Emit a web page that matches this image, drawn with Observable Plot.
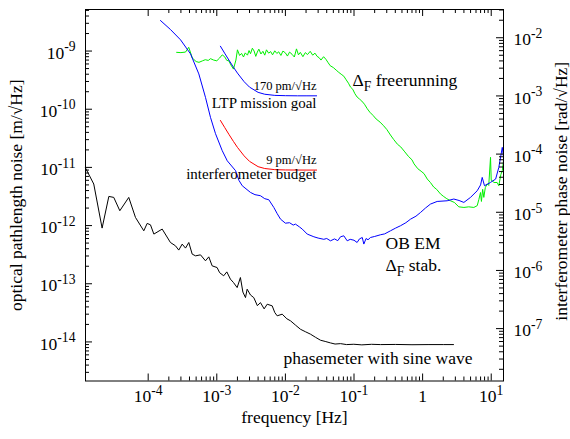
<!DOCTYPE html>
<html><head><meta charset="utf-8">
<script src="https://cdn.jsdelivr.net/npm/d3@7"></script>
<script src="https://cdn.jsdelivr.net/npm/@observablehq/plot@0.6"></script>
<style>html,body{margin:0;padding:0;background:#fff;}</style>
</head><body><div id="chart"></div>
<script>
// ---- data (frequency in Hz, optical pathlength noise in m/sqrt(Hz)) ----
const phasemeterFreq = [1.22e-5,1.61e-5,2.13e-5,2.67e-5,3.15e-5,3.86e-5,5.21e-5,6.53e-5,8.63e-5,9.67e-5,1.08e-4,1.21e-4,1.6e-4,2.11e-4,2.5e-4,2.79e-4,3.13e-4,3.5e-4,3.91e-4,4.38e-4,4.9e-4,5.79e-4,6.84e-4,7.64e-4,8.56e-4,1.01e-3,1.1e-3,1.26e-3,1.4e-3,1.58e-3,1.75e-3,1.98e-3,2.21e-3,2.4e-3,2.62e-3,2.77e-3,3.1e-3,3.46e-3,3.9e-3,4.33e-3,4.9e-3,5.43e-3,6.42e-3,7.0e-3,7.59e-3,8.98e-3,1.05e-2,1.19e-2,1.4e-2,1.66e-2,1.95e-2,2.32e-2,2.75e-2,3.25e-2,3.8e-2,4.54e-2,5.3e-2,6.36e-2,7.8e-2,9.93e-2,0.13,0.18,0.243,0.4,0.7,1.2,2.0,2.82];
const phasemeterNoise = [9.77e-12,5.18e-12,9.05e-13,3.17e-12,3.05e-12,1.8e-12,3.05e-12,1.38e-12,8.13e-13,1.09e-12,1.03e-12,7.14e-13,8.71e-13,5.12e-13,4.49e-13,3.79e-13,4.8e-13,4.1e-13,5.12e-13,3.23e-13,3.02e-13,3.14e-13,2.48e-13,2.9e-13,2.03e-13,1.9e-13,1.55e-13,1.37e-13,1.6e-13,1.2e-13,1.05e-13,8.6e-14,1.28e-13,7.2e-14,5.78e-14,8.07e-14,6.4e-14,5.78e-14,4.2e-14,4.74e-14,3.7e-14,4.45e-14,4.17e-14,3.2e-14,2.81e-14,3.0e-14,2.5e-14,2.3e-14,1.95e-14,1.65e-14,1.5e-14,1.36e-14,1.2e-14,1.07e-14,1.02e-14,9.62e-15,9.2e-15,9.35e-15,9.0e-15,9.12e-15,8.9e-15,9.1e-15,9.0e-15,9.05e-15,8.95e-15,9.0e-15,9.0e-15,9.0e-15];

const freerunFreq = [2.6e-4,3.0e-4,3.5e-4,3.9e-4,4.4e-4,5.0e-4,5.5e-4,6.2e-4,6.8e-4,7.5e-4,8.1e-4,9.0e-4,1.0e-3,1.1e-3,1.2e-3,1.3e-3,1.4e-3,1.5e-3,1.6e-3,1.75e-3,1.9e-3,2.0e-3,2.15e-3,2.3e-3,2.45e-3,2.6e-3,2.8e-3,2.95e-3,3.1e-3,3.3e-3,3.5e-3,3.7e-3,3.9e-3,4.1e-3,4.4e-3,4.7e-3,5.0e-3,5.3e-3,5.7e-3,6.1e-3,6.5e-3,7.0e-3,7.5e-3,8.0e-3,8.6e-3,9.2e-3,1.0e-2,1.07e-2,1.15e-2,1.25e-2,1.35e-2,1.45e-2,1.55e-2,1.65e-2,1.8e-2,1.95e-2,2.1e-2,2.3e-2,2.5e-2,2.7e-2,2.9e-2,3.1e-2,3.3e-2,3.6e-2,3.9e-2,4.2e-2,4.5e-2,5.0e-2,5.5e-2,6.0e-2,6.5e-2,7.1e-2,7.7e-2,8.3e-2,8.9e-2,9.6e-2,0.103,0.111,0.12,0.13,0.142,0.156,0.17,0.19,0.21,0.24,0.27,0.3,0.34,0.38,0.43,0.48,0.55,0.62,0.7,0.75,0.85,0.95,1.05,1.17,1.3,1.45,1.6,1.82,2.0,2.25,2.55,2.9,3.37,4.0,4.7,5.58,6.25,6.6,6.98,7.2,7.5,7.8,8.2,8.75,9.2,9.77,10.0,10.3,11.0,12.2,12.9,13.8,14.5,15.1];
const freerunNoise = [9.5e-10,9.4e-10,9.6e-10,1.16e-9,7.6e-10,6.6e-10,6.4e-10,6.8e-10,7.1e-10,6.9e-10,7.4e-10,7.0e-10,6.8e-10,7.6e-10,8.6e-10,8.0e-10,6.9e-10,6.8e-10,5.8e-10,4.9e-10,7.0e-10,1.05e-9,8.4e-10,9.1e-10,7.9e-10,9.3e-10,8.5e-10,1.02e-9,9.0e-10,1.12e-9,1.0e-9,8.1e-10,9.6e-10,1.08e-9,8.9e-10,9.9e-10,8.5e-10,1.05e-9,9.2e-10,9.8e-10,8.6e-10,1.01e-9,9.1e-10,9.7e-10,8.4e-10,1.0e-9,9.3e-10,8.2e-10,9.6e-10,8.8e-10,7.9e-10,1.09e-9,8.6e-10,9.5e-10,8.0e-10,9.4e-10,8.7e-10,9.9e-10,8.5e-10,9.2e-10,8.1e-10,7.7e-10,7.0e-10,8.0e-10,7.2e-10,6.3e-10,5.6e-10,5.2e-10,4.7e-10,4.3e-10,4.0e-10,3.7e-10,3.2e-10,2.8e-10,2.4e-10,2.2e-10,1.85e-10,1.62e-10,1.5e-10,1.38e-10,1.22e-10,1.02e-10,8.9e-11,7.8e-11,6.8e-11,6.0e-11,5.2e-11,4.5e-11,3.6e-11,3.0e-11,2.5e-11,2.25e-11,1.85e-11,1.55e-11,1.35e-11,1.15e-11,9.5e-12,8.6e-12,7.8e-12,6.3e-12,5.5e-12,4.6e-12,4.2e-12,3.5e-12,3.2e-12,2.9e-12,2.67e-12,2.5e-12,2.1e-12,2.05e-12,2.1e-12,2.05e-12,2.2e-12,2.8e-12,3.7e-12,2.6e-12,4.2e-12,3.05e-12,4.5e-12,5.2e-12,4.9e-12,1.49e-11,6.0e-12,5.9e-12,5.5e-12,5.5e-12,4.84e-12,7.5e-12,8.8e-12,1.3e-11];

const stabFreq = [1.51e-4,2.11e-4,2.96e-4,4.14e-4,5.47e-4,6.84e-4,8.09e-4,9.58e-4,1.2e-3,1.42e-3,1.88e-3,2.1e-3,2.35e-3,3.1e-3,3.6e-3,4.33e-3,5.0e-3,5.73e-3,6.78e-3,7.6e-3,8.49e-3,1.0e-2,1.15e-2,1.3e-2,1.4e-2,1.6e-2,1.76e-2,2.08e-2,2.6e-2,3.0e-2,3.63e-2,4.0e-2,4.54e-2,5.2e-2,5.8e-2,6.36e-2,7.1e-2,7.96e-2,8.8e-2,0.1,0.111,0.12,0.132,0.139,0.15,0.16,0.174,0.2,0.243,0.28,0.34,0.4,0.476,0.57,0.667,0.8,0.932,1.1,1.3,1.63,2.28,2.85,3.4,3.99,4.99,6.25,7.0,7.39,7.98,9.77,11.6,12.9,14.5,15.1];
const stabNoise = [3.35e-9,2.35e-9,1.56e-9,8.95e-10,4.05e-10,1.6e-10,7.26e-11,3.8e-11,1.94e-11,1.3e-11,8.77e-12,6.0e-12,4.84e-12,3.71e-12,3.4e-12,3.26e-12,2.9e-12,2.78e-12,2.05e-12,1.6e-12,1.29e-12,1.1e-12,1.12e-12,1.02e-12,1.06e-12,9.5e-13,8.71e-13,7.14e-13,6.42e-13,6.1e-13,5.81e-13,6.0e-13,5.47e-13,5.9e-13,5.5e-13,6.42e-13,6.67e-13,5.47e-13,5.8e-13,5.6e-13,5.12e-13,5.9e-13,6.24e-13,4.81e-13,6.0e-13,5.7e-13,6.24e-13,6.5e-13,6.95e-13,7.2e-13,8.13e-13,9.0e-13,9.93e-13,1.12e-12,1.29e-12,1.45e-12,1.68e-12,2.0e-12,2.34e-12,2.6e-12,2.67e-12,2.86e-12,2.7e-12,2.5e-12,3.05e-12,3.97e-12,5.0e-12,6.73e-12,4.84e-12,5.52e-12,6.31e-12,1.0e-11,2.21e-11,1.49e-11];

const goalFreq = [1.13e-3,1.3e-3,1.5e-3,1.75e-3,2e-3,2.5e-3,3e-3,4e-3,5e-3,7e-3,1e-2,1.5e-2,2e-2,2.85e-2];
const goalNoise = [1.21e-9,9.21e-10,7.01e-10,5.27e-10,4.18e-10,2.98e-10,2.4e-10,1.95e-10,1.81e-10,1.73e-10,1.71e-10,1.7e-10,1.7e-10,1.7e-10];
const budgetNoise = [6.41e-11,4.88e-11,3.71e-11,2.79e-11,2.21e-11,1.58e-11,1.27e-11,1.03e-11,9.57e-12,9.15e-12,9.04e-12,9.01e-12,9.0e-12,9.0e-12];

// annotations (anchored in data units)
const annotText  = ["170 pm/√Hz","LTP mission goal","9 pm/√Hz","interferometer budget","Δ_{F} freerunning","OB EM","Δ_{F} stab.","phasemeter with sine wave"];
const annotFreq  = [2.84e-2,2.84e-2,2.84e-2,2.84e-2,9.5e-2,0.288,0.288,9.37e-3];
const annotNoise = [2.55e-10,1.29e-10,1.36e-11,7.59e-12,3.18e-10,4.98e-13,2.08e-13,5.22e-15];

// tick values
const xMajor = [1e-4,1e-3,1e-2,1e-1,1,10];
const yMajor = [1e-14,1e-13,1e-12,1e-11,1e-10,1e-9];
const phaseMajor = [1e-7,1e-6,1e-5,1e-4,1e-3,1e-2];
const wavelength = 1.064e-6; // m, phase = 2*pi/lambda * pathlength
const kPhase = 2*Math.PI/wavelength;

// ---- build ----
const xDomain = [1.22e-5, 15.1], yDomain = [2.13e-15, 5.18e-9];
const W = 570, H = 439, mL = 85, mR = 67, mT = 9, mB = 58.5;
const innerW = W - mL - mR, innerH = H - mT - mB;
const minors = (decades, lo, hi) => decades.flatMap(d => [2,3,4,5,6,7,8,9].map(m => m*d)).filter(v => v > lo && v < hi);
const xMinor = minors([1e-4,1e-3,1e-2,1e-1,1], xDomain[0], xDomain[1]);
const yMinor = minors([1e-15,1e-14,1e-13,1e-12,1e-11,1e-10,1e-9], yDomain[0], yDomain[1]);
const pMinor = minors([1e-8,1e-7,1e-6,1e-5,1e-4,1e-3,1e-2], yDomain[0]*kPhase, yDomain[1]*kPhase).map(r => r/kPhase);
const pMajorL = phaseMajor.map(r => r/kPhase);
const rows = (fs, vs) => fs.map((f,i) => ({f, v: vs[i]}));
const ann = annotText.map((t,i) => ({t, f: annotFreq[i], v: annotNoise[i]}));
const sup = d => `10^{${Math.round(Math.log10(d))}}`;
const majLen = 7, minLen = 4;

const plot = Plot.plot({
  width: W, height: H, marginLeft: mL, marginRight: mR, marginTop: mT, marginBottom: mB,
  x: {type: "log", domain: xDomain},
  y: {type: "log", domain: yDomain},
  style: {fontFamily: "'Liberation Serif','Times New Roman',serif", fontSize: "17.5px", color: "black", background: "white"},
  marks: [
    Plot.line(rows(phasemeterFreq, phasemeterNoise), {x: "f", y: "v", stroke: "#000", strokeWidth: 1}),
    Plot.line(rows(freerunFreq, freerunNoise), {x: "f", y: "v", stroke: "#00f000", strokeWidth: 1}),
    Plot.line(rows(stabFreq, stabNoise), {x: "f", y: "v", stroke: "#0000ff", strokeWidth: 1}),
    Plot.line(rows(goalFreq, goalNoise), {x: "f", y: "v", stroke: "#0000ff", strokeWidth: 1}),
    Plot.line(rows(goalFreq, budgetNoise), {x: "f", y: "v", stroke: "#ff0000", strokeWidth: 1}),
    Plot.frame({stroke: "black", strokeWidth: 1}),
    // ticks (inward, mirrored on top)
    Plot.tickX(xMajor, {x: d => d, insetTop: innerH - majLen}),
    Plot.tickX(xMinor, {x: d => d, insetTop: innerH - minLen}),
    Plot.tickX(xMajor, {x: d => d, insetBottom: innerH - majLen}),
    Plot.tickX(xMinor, {x: d => d, insetBottom: innerH - minLen}),
    Plot.tickY(yMajor, {y: d => d, insetRight: innerW - majLen}),
    Plot.tickY(yMinor, {y: d => d, insetRight: innerW - minLen}),
    Plot.tickY(pMajorL, {y: d => d, insetLeft: innerW - majLen}),
    Plot.tickY(pMinor, {y: d => d, insetLeft: innerW - minLen}),
    // tick labels
    Plot.axisX(xMajor, {tickSize: 0, tickPadding: 9, tickFormat: d => d === 1 ? "1" : sup(d), label: null}),
    Plot.axisY(yMajor, {anchor: "left", tickSize: 0, tickPadding: 10, tickFormat: sup, label: null, dy: 2}),
    Plot.axisY(pMajorL, {anchor: "right", tickSize: 0, tickPadding: 10, tickFormat: d => sup(d*kPhase), label: null, dy: 2}),
    // axis titles
    Plot.text(["frequency [Hz]"], {frameAnchor: "bottom", lineAnchor: "middle", textAnchor: "middle", dy: 36.5, text: d => d}),
    Plot.text(["optical pathlength noise [m/√Hz]"], {frameAnchor: "left", textAnchor: "middle", lineAnchor: "middle", rotate: -90, dx: -69.6, text: d => d}),
    Plot.text(["interferometer phase noise [rad/√Hz]"], {frameAnchor: "right", textAnchor: "middle", lineAnchor: "middle", rotate: -90, dx: 57.5, dy: -4, text: d => d}),
    // annotations
    Plot.text(ann.filter(d => /pm/.test(d.t)), {x: "f", y: "v", text: "t", textAnchor: "end", fontSize: 12.5}),
    Plot.text(ann.filter(d => /goal|budget/.test(d.t)), {x: "f", y: "v", text: "t", textAnchor: "end", fontSize: 15}),
    Plot.text(ann.filter(d => /freerunning|OB|stab|phasemeter/.test(d.t)), {x: "f", y: "v", text: "t", textAnchor: "start", fontSize: 17.5})
  ]
});
document.getElementById("chart").appendChild(plot);

// rich text: ^{..} superscript, _{..} subscript
const NS = "http://www.w3.org/2000/svg";
plot.querySelectorAll("text").forEach(el => {
  const s = el.textContent;
  if (!/[\^_]\{/.test(s)) return;
  const fs = parseFloat(getComputedStyle(el).fontSize) || 17.5;
  while (el.firstChild) el.removeChild(el.firstChild);
  const re = /([\^_])\{([^}]*)\}/g;
  let last = 0, m, shift = 0;
  const add = (txt, type) => {
    const t = document.createElementNS(NS, "tspan");
    const target = type === "^" ? -0.42*fs : type === "_" ? 0.3*fs : 0;
    if (target - shift !== 0) t.setAttribute("dy", (target - shift).toFixed(2));
    shift = target;
    if (type) t.setAttribute("font-size", (0.78*fs).toFixed(2));
    t.textContent = txt;
    el.appendChild(t);
  };
  while ((m = re.exec(s))) {
    if (m.index > last) add(s.slice(last, m.index), null);
    add(m[2], m[1]);
    last = re.lastIndex;
  }
  if (last < s.length) add(s.slice(last), null);
});
</script>
</body></html>
